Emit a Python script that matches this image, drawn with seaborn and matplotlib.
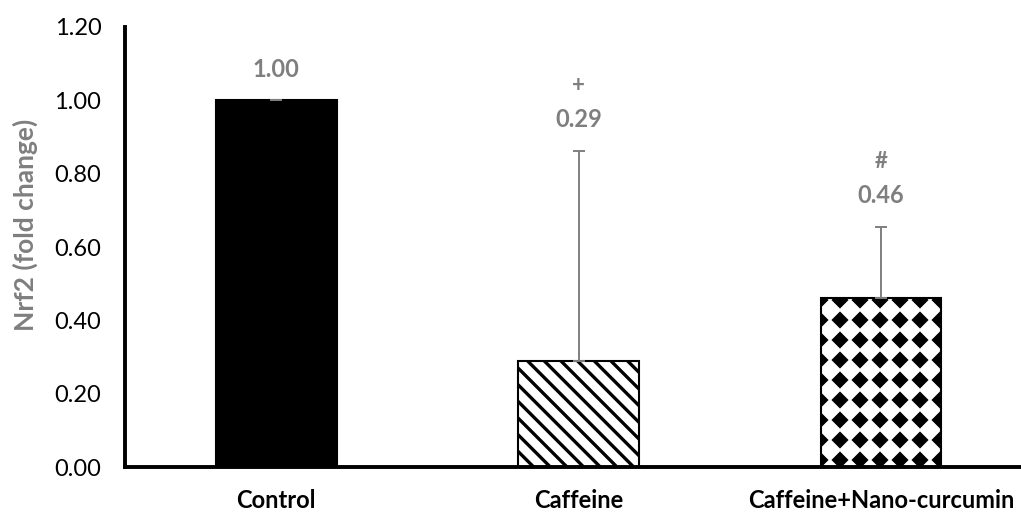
import warnings
import numpy as np
import matplotlib
matplotlib.use("Agg")
import matplotlib.pyplot as plt
import matplotlib.hatch as mhatch
from matplotlib.path import Path
import seaborn as sns

warnings.filterwarnings("ignore")

# data
groups = ["Control", "Caffeine", "Caffeine+Nano-curcumin"]
fold_change = [1.00, 0.29, 0.46]
err_up = [0.0, 0.572, 0.195]
value_text = ["1.00", "0.29", "0.46"]
sig_marks = ["", "+", "#"]
bar_colors = ["black", "white", "white"]
bar_hatch = [None, "\\\\", "d"]


# grid of filled diamonds, used as hatch "d"
class DiamondGrid(mhatch.HatchPatternBase):
    def __init__(self, hatch, density):
        self.num_rows = round(hatch.count("d") * density * 0.9)
        self.num_vertices = (self.num_rows + 1) ** 2 * 5 if self.num_rows else 0

    def set_vertices_and_codes(self, vertices, codes):
        step = 1.0 / self.num_rows
        dia = Path.unit_regular_polygon(4)
        shape = dia.vertices * step * 0.31
        pos = np.linspace(0, 1, self.num_rows + 1)
        parts = [shape + [cx, cy] for cy in pos for cx in pos]
        vertices[:] = np.concatenate(parts)
        codes[:] = np.tile(dia.codes, len(parts))


mhatch._hatch_types.append(DiamondGrid)

sns.set_style("white")
plt.rcParams["font.family"] = ["Lato", "DejaVu Sans"]
plt.rcParams["hatch.linewidth"] = 2.4
grey = "#7f7f7f"

fig, ax = plt.subplots(figsize=(10.21, 5.14), dpi=100)
fig.subplots_adjust(left=0.1224, right=1.0, bottom=0.0914, top=0.9475)

sns.barplot(x=groups, y=fold_change, hue=groups, palette=bar_colors, order=groups,
            width=0.4, edgecolor="black", linewidth=1.5, errorbar=None,
            legend=False, ax=ax)
for p, h in zip(ax.patches, bar_hatch):
    if h:
        p.set_hatch(h)

xpos = np.arange(len(groups))
ax.errorbar(xpos, fold_change, yerr=[np.zeros(len(groups)), err_up], fmt="none",
            ecolor=grey, elinewidth=1.4, capsize=4.5, capthick=1.4, zorder=5)

tops = np.array(fold_change) + np.array(err_up)
for i in range(len(groups)):
    ax.annotate(value_text[i], xy=(xpos[i], tops[i]), xytext=(0, 22.5),
                textcoords="offset points", ha="center", va="center",
                fontsize=17, fontweight="bold", color=grey)
    if sig_marks[i]:
        ax.annotate(sig_marks[i], xy=(xpos[i], tops[i]), xytext=(0, 47),
                    textcoords="offset points", ha="center", va="center",
                    fontsize=16, fontweight="bold", color=grey)

ax.set_xlim(-0.5, 2.463)
ax.set_ylim(0, 1.2)
ax.set_yticks(np.arange(0, 1.21, 0.2))
ax.set_yticklabels([f"{v:.2f}" for v in np.arange(0, 1.21, 0.2)], fontsize=17)
ax.set_xticks(xpos)
ax.set_xticklabels(groups, fontsize=17, fontweight="bold")
ax.tick_params(axis="y", length=0, pad=17, colors="black")
ax.tick_params(axis="x", length=0, pad=16, colors="black")

ax.set_ylabel("Nrf2 (fold change)", fontsize=19, fontweight="bold", color=grey)
ax.yaxis.set_label_coords(-0.097, 0.55)
ax.set_xlabel("")

for s in ["top", "right"]:
    ax.spines[s].set_visible(False)
for s in ["left", "bottom"]:
    ax.spines[s].set_linewidth(2.8)
    ax.spines[s].set_color("black")

fig.savefig("out.png", dpi=100)
